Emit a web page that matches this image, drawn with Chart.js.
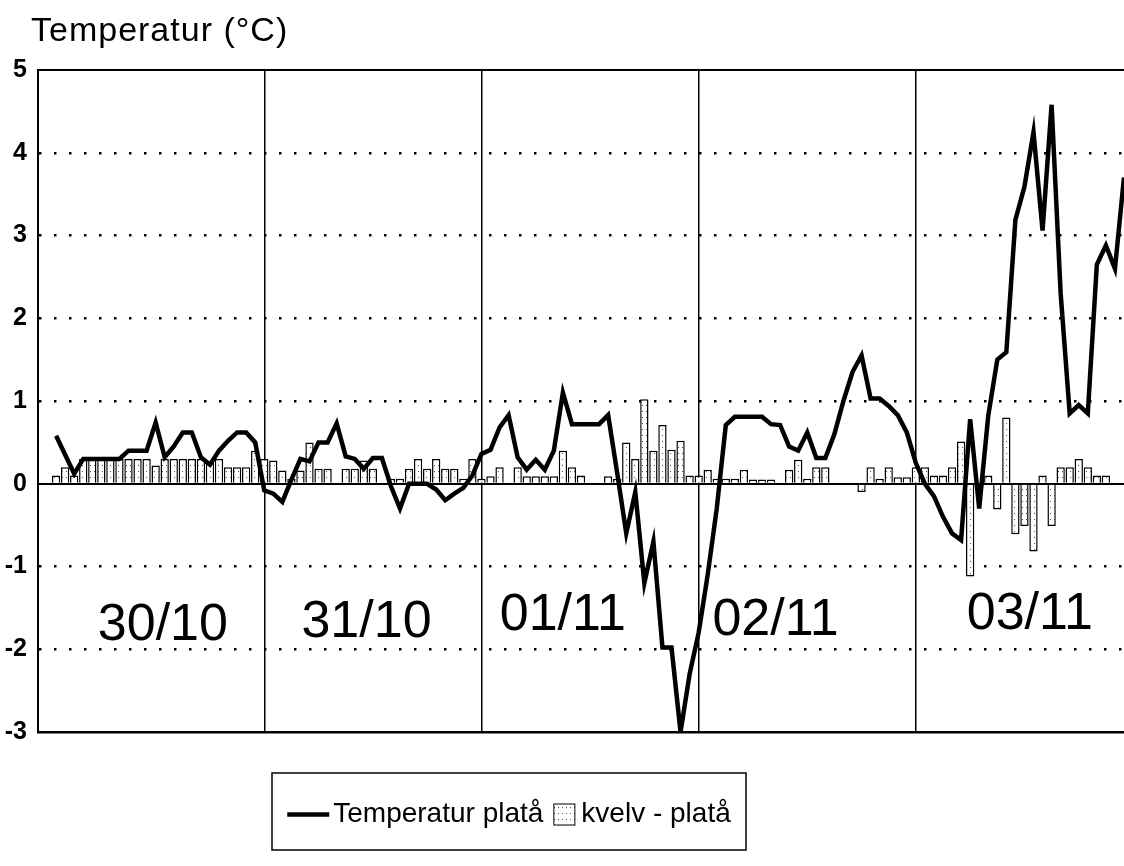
<!DOCTYPE html>
<html>
<head>
<meta charset="utf-8">
<script src="https://cdn.jsdelivr.net/npm/chart.js@4.4.0/dist/chart.umd.min.js"></script>
<style>
    html, body { margin: 0; padding: 0; background: #fff; }
    #wrap { width: 1124px; height: 866px; }
</style>
</head>
<body>
<div id="wrap"><canvas id="chart" width="1124" height="866"></canvas></div>
<script>
// Hourly readings, hour 0 = 30/10 00:00 (five days shown).
const dayLabels = ['30/10', '31/10', '01/11', '02/11', '03/11'];
const dayBounds = [24, 48, 72, 96];
const yTicks = [-3, -2, -1, 0, 1, 2, 3, 4, 5];

const seriesLabels = ['Temperatur platå', 'kvelv - platå'];

// Temperatur platå (°C), one value per hour
const tempPlata = [
    null, 0.58, 0.35, 0.12, 0.3, 0.3, 0.3, 0.3, 0.3, 0.4, 0.4, 0.4,
    0.74, 0.32, 0.45, 0.62, 0.62, 0.32, 0.23, 0.4, 0.52, 0.62, 0.62, 0.5,
    -0.08, -0.12, -0.22, 0.05, 0.3, 0.27, 0.5, 0.5, 0.73, 0.33, 0.3, 0.18,
    0.31, 0.31, -0.03, -0.3, 0.0, 0.0, 0.0, -0.07, -0.2, -0.12, -0.05, 0.1,
    0.36, 0.41, 0.68, 0.83, 0.32, 0.17, 0.29, 0.17, 0.4, 1.1, 0.72, 0.72,
    0.72, 0.72, 0.83, 0.13, -0.6, -0.1, -1.2, -0.7, -1.98, -1.98, -3.0, -2.3,
    -1.8, -1.1, -0.3, 0.71, 0.81, 0.81, 0.81, 0.81, 0.72, 0.71, 0.45, 0.4,
    0.62, 0.31, 0.31, 0.6, 1.0, 1.35, 1.55, 1.03, 1.03, 0.94, 0.83, 0.62,
    0.25, 0.0, -0.15, -0.4, -0.6, -0.68, 0.78, -0.3, 0.82, 1.5, 1.59, 3.19,
    3.59, 4.25, 3.06, 4.58, 2.3, 0.85, 0.95, 0.85, 2.65, 2.88, 2.6, 3.7,
];

// kvelv - platå difference (°C), one bar per hour
const kvelvPlata = [
    null, 0.1, 0.2, 0.1, 0.3, 0.3, 0.3, 0.3, 0.3, 0.3, 0.3, 0.3,
    0.22, 0.3, 0.3, 0.3, 0.3, 0.3, 0.25, 0.3, 0.2, 0.2, 0.2, 0.4,
    0.3, 0.28, 0.16, 0.06, 0.16, 0.5, 0.18, 0.18, null, 0.18, 0.18, 0.28,
    0.18, null, 0.06, 0.06, 0.18, 0.3, 0.18, 0.3, 0.18, 0.18, 0.06, 0.3,
    0.06, 0.09, 0.2, null, 0.2, 0.09, 0.09, 0.09, 0.09, 0.4, 0.2, 0.1,
    null, null, 0.09, 0.06, 0.5, 0.3, 1.02, 0.4, 0.71, 0.41, 0.52, 0.1,
    0.1, 0.17, 0.06, 0.06, 0.06, 0.17, 0.05, 0.05, 0.05, null, 0.17, 0.29,
    0.06, 0.2, 0.2, null, null, null, -0.1, 0.2, 0.06, 0.2, 0.08, 0.08,
    0.2, 0.2, 0.1, 0.1, 0.2, 0.51, -1.12, null, 0.1, -0.31, 0.8, -0.61,
    -0.51, -0.82, 0.1, -0.51, 0.2, 0.2, 0.3, 0.2, 0.1, 0.1, null, null,
];

const hours = tempPlata.map((_, i) => i);
const FONT = '"Liberation Sans", Arial, sans-serif';

// sparse-dot fill used by the bars and their legend swatch
function dotPattern() {
    const c = document.createElement('canvas');
    c.width = 4; c.height = 6;
    const g = c.getContext('2d');
    g.fillStyle = '#fff';
    g.fillRect(0, 0, 4, 6);
    g.fillStyle = '#555';
    g.fillRect(2, 3, 1, 1);
    return g.createPattern(c, 'repeat');
}
const dots = dotPattern();

// title, date captions inside the plot and the boxed legend
const textPlugin = {
    id: 'textPlugin',
    afterDraw(chart, args, opts) {
        const { ctx, scales: { x, y } } = chart;
        ctx.save();
        ctx.fillStyle = '#000';

        ctx.font = `34px ${FONT}`;
        ctx.letterSpacing = '1px';
        ctx.textAlign = 'left';
        ctx.textBaseline = 'alphabetic';
        ctx.fillText('Temperatur (°C)', 31, 41);
        ctx.letterSpacing = '0px';

        ctx.font = `52px ${FONT}`;
        ctx.textAlign = 'center';
        ctx.textBaseline = 'middle';
        dayLabels.forEach((d, i) => {
            ctx.fillText(d, x.getPixelForValue(opts.dayAt[i]), y.getPixelForValue(opts.dayY[i]));
        });

        // legend
        const bx = 272, by = 773, bw = 474, bh = 77;
        ctx.lineWidth = 1.5;
        ctx.strokeStyle = '#000';
        ctx.strokeRect(bx, by, bw, bh);
        ctx.font = `28px ${FONT}`;
        ctx.textAlign = 'left';
        const cy = by + bh / 2 + 3;
        const w1 = ctx.measureText(seriesLabels[0]).width;
        const w2 = ctx.measureText(seriesLabels[1]).width;
        const total = 42 + 4 + w1 + 10 + 22 + 6 + w2;
        let cx = bx + (bw - total) / 2;
        ctx.lineWidth = 4.5;
        ctx.beginPath();
        ctx.moveTo(cx, cy);
        ctx.lineTo(cx + 42, cy);
        ctx.stroke();
        cx += 46;
        ctx.fillText(seriesLabels[0], cx, cy);
        cx += w1 + 10;
        ctx.fillStyle = dots;
        ctx.fillRect(cx, cy - 11, 22, 22);
        ctx.lineWidth = 1;
        ctx.strokeRect(cx + 0.5, cy - 10.5, 21, 21);
        cx += 28;
        ctx.fillStyle = '#000';
        ctx.fillText(seriesLabels[1], cx, cy);
        ctx.restore();
    },
};

new Chart(document.getElementById('chart'), {
    type: 'bar',
    data: {
        datasets: [
            {
                type: 'line',
                label: seriesLabels[0],
                data: hours.map((h, i) => ({ x: h, y: tempPlata[i] })),
                borderColor: '#000',
                borderWidth: 4.5,
                pointRadius: 0,
                tension: 0,
                order: 0,
            },
            {
                type: 'bar',
                label: seriesLabels[1],
                data: hours.map((h, i) => ({ x: h, y: kvelvPlata[i] })),
                backgroundColor: dots,
                borderColor: '#000',
                borderWidth: 1.5,
                barPercentage: 0.92,
                categoryPercentage: 1,
                order: 1,
            },
        ],
    },
    options: {
        responsive: false,
        animation: false,
        layout: { padding: { top: 70, bottom: 134, left: 0, right: 0 } },
        plugins: {
            legend: { display: false },
            tooltip: { enabled: false },
            textPlugin: {
                dayAt: [12.8, 35.3, 57, 80.5, 108.6],
                dayY: [-1.72, -1.68, -1.6, -1.66, -1.58],
            },
        },
        scales: {
            x: {
                type: 'linear',
                offset: false,
                min: -1,
                max: 119,
                afterBuildTicks: s => { s.ticks = dayBounds.map(v => ({ value: v })); },
                afterFit: s => { s.height = 0; },
                ticks: { display: false },
                grid: { offset: false, color: '#000', lineWidth: 1.5, drawTicks: false },
                border: { display: true, color: '#000', width: 2 },
            },
            y: {
                min: -3,
                max: 5,
                afterBuildTicks: s => { s.ticks = yTicks.map(v => ({ value: v })); },
                afterFit: s => { s.width = 38; },
                ticks: { color: '#000', padding: 11, font: { family: FONT, size: 25, weight: 'bold' } },
                grid: {
                    color: '#000',
                    drawTicks: false,
                    lineWidth: c => (c.tick && (c.tick.value === 0 || c.tick.value === 5) ? 2 : 2.5),
                },
                border: {
                    display: true, color: '#000', width: 2,
                    dash: c => (c.tick && [0, 5, -3].indexOf(c.tick.value) === -1 ? [2.5, 12.5] : []),
                },
            },
        },
    },
    plugins: [textPlugin],
});
</script>
</body>
</html>
